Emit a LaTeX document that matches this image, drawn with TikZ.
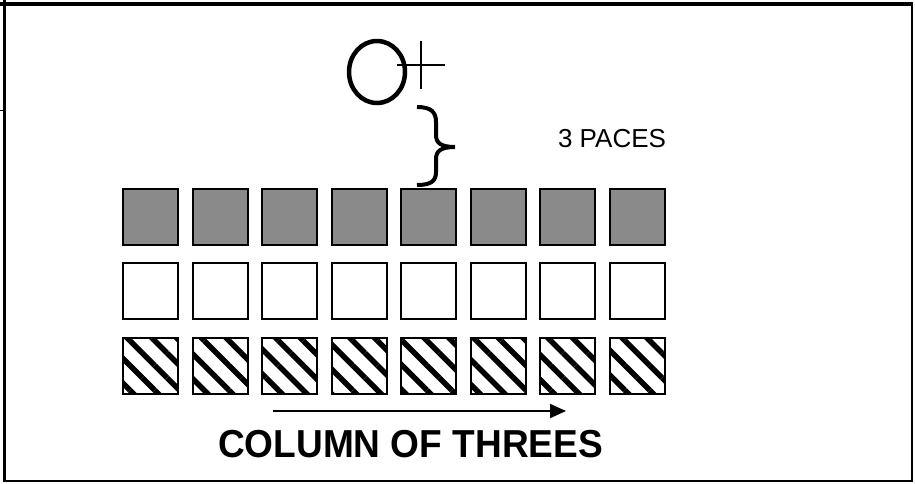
\documentclass[tikz,border=0pt]{standalone}
\usepackage{fontspec}
\setmainfont{Liberation Sans}
\newfontfamily\captionfont[FakeStretch=0.95]{Liberation Sans}
\usetikzlibrary{positioning}
\usetikzlibrary{shapes}
\usetikzlibrary{arrows.meta}
\usetikzlibrary{patterns.meta}
\definecolor{rankgray}{RGB}{138,138,138}

\begin{document}
\begin{tikzpicture}[x=1pt,y=-1pt,
    soldier/.style={shape=rectangle,draw=black,line width=2pt,minimum width=55pt,minimum height=56pt,inner sep=0pt},
    frontrank/.style={soldier,fill=rankgray},
    middlerank/.style={soldier,fill=white},
    rearrank/.style={soldier,pattern={Lines[angle=-45,distance=17.5pt,line width=5.5pt]}}]
    \useasboundingbox (0,0) rectangle (915,483);

    % frame
    \draw[line width=4.5pt] (0,4) -- (913,4);
    \draw[line width=3pt] (4.5,0) -- (4.5,481);
    \draw[line width=2pt] (912,3) -- (912,481);
    \draw[line width=2pt] (3,480.5) -- (913,480.5);
    \draw[line width=1pt] (0,110.5) -- (2.5,110.5);

    % leader and guide
    \node[shape=ellipse,draw=black,line width=4.5pt,minimum width=56pt,minimum height=62pt,inner sep=0pt] (leader) at (377,72) {};
    \draw[line width=1.5pt] (397,65) -- (445,65);
    \draw[line width=1.5pt] (421,41) -- (421,89);

    % distance
    \draw[line width=4pt] (417,107) .. controls (431,107) and (436,112) .. (436,122) -- (436,135)
        .. controls (436,143) and (441,147) .. (455,147)
        .. controls (441,147) and (436,151) .. (436,159) -- (436,172)
        .. controls (436,181) and (431,185) .. (417,185);
    \node[anchor=base,font=\fontsize{26}{30}\selectfont] (paces) at (612,147) {3 PACES};

    % three ranks
    \foreach \c in {0,...,7} {
        \node[frontrank] (front\c) at (150.5+69.5*\c,216.5) {};
        \node[middlerank] (middle\c) at (150.5+69.5*\c,291) {};
        \node[rearrank] (rear\c) at (150.5+69.5*\c,366) {};
    }

    \coordinate (marchstart) at (273,411);
    \coordinate (marchend) at (566,411);
    \path [-{Triangle[length=16pt,width=14pt]},line width=2pt] (marchstart) edge node {} (marchend);
    \node[anchor=base,font=\captionfont\bfseries\fontsize{39}{46}\selectfont] (caption) at (410.5,457) {COLUMN OF THREES};
\end{tikzpicture}
\end{document}
